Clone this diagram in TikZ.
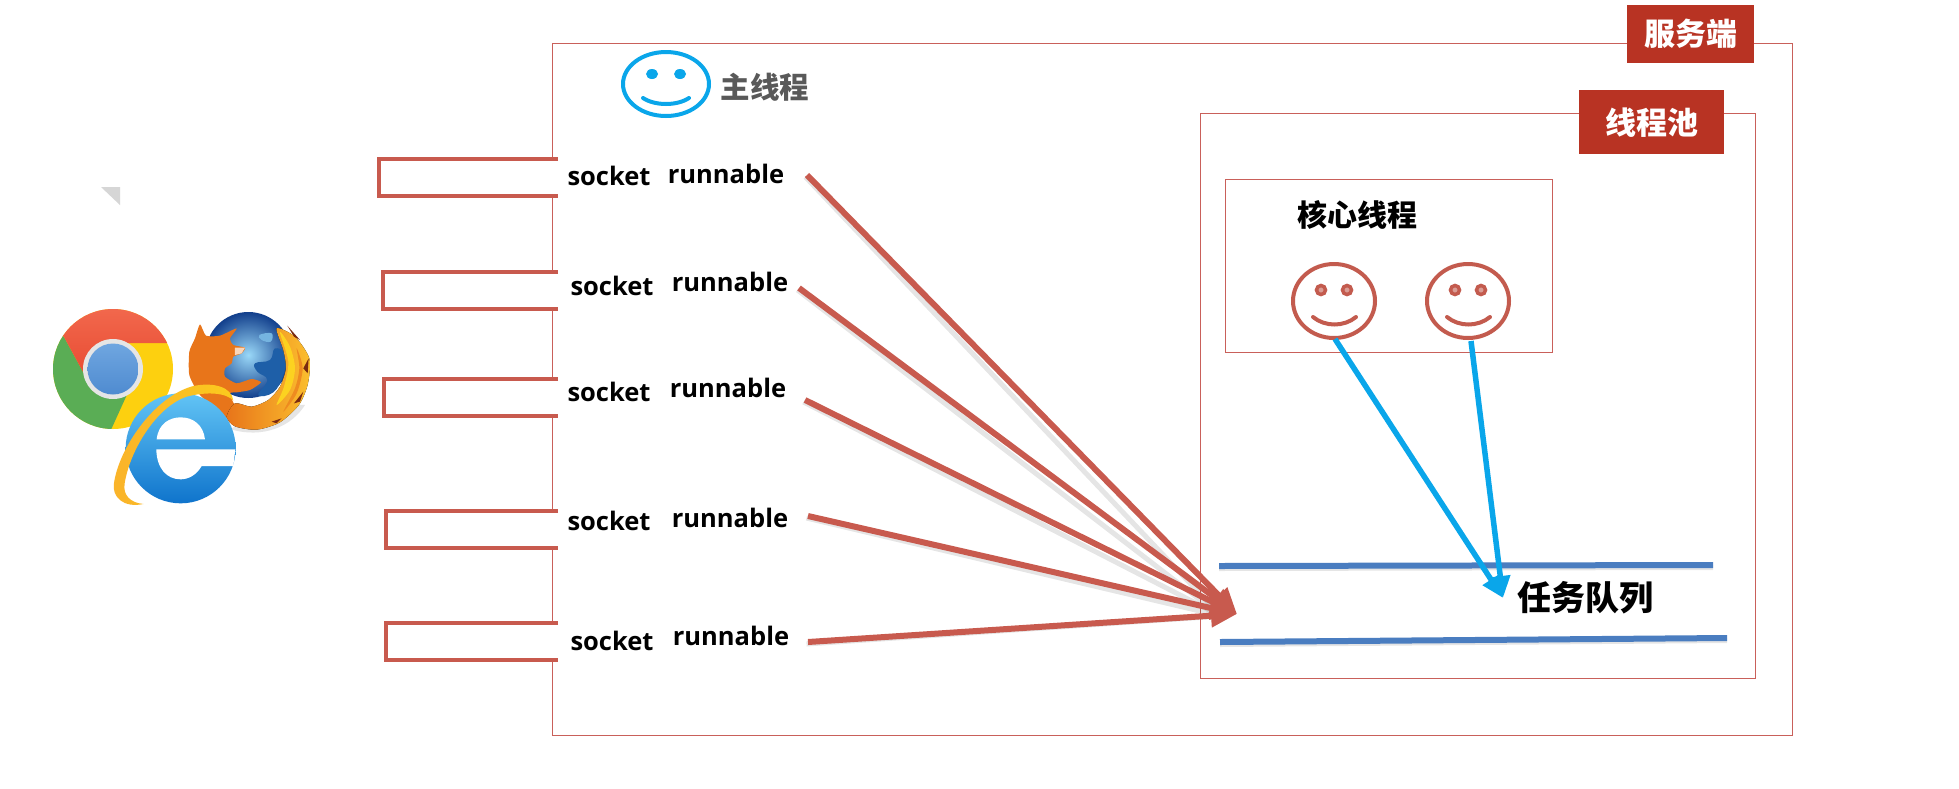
\documentclass[tikz,border=0pt]{standalone}
\usepackage{fontspec}
\usetikzlibrary{arrows.meta}
\setmainfont{Open Sans}
\newfontfamily\cjk{Noto Sans CJK SC}
\definecolor{frame}{HTML}{C9605A}
\definecolor{brick}{HTML}{C85A4E}
\definecolor{tag}{HTML}{B83323}
\definecolor{sky}{HTML}{0AA6EA}
\definecolor{queue}{HTML}{4A7DC0}
\definecolor{smile}{HTML}{C35B4E}
\definecolor{chred}{HTML}{E6452C}
\definecolor{chredl}{HTML}{F2694E}
\definecolor{chgreen}{HTML}{5AAD55}
\definecolor{chyellow}{HTML}{FDD00F}
\definecolor{chblue}{HTML}{4F8BD0}
\definecolor{chbluel}{HTML}{6FA6E0}
\definecolor{ffdeep}{HTML}{123F8C}
\definecolor{ffsky}{HTML}{9AD8F8}
\definecolor{ffmid}{HTML}{1E5FA8}
\definecolor{fforange}{HTML}{E8751A}
\definecolor{ffgold}{HTML}{FBBF2E}
\definecolor{ffdark}{HTML}{7A2A10}
\definecolor{ietop}{HTML}{62C4F5}
\definecolor{iebot}{HTML}{0F74CC}
\definecolor{iering}{HTML}{FAB32A}
\tikzset{
  boxframe/.style={draw=frame,line width=1.3pt,fill=none,inner sep=0pt,anchor=north west},
  tagbox/.style={fill=tag,text=white,inner sep=0pt,font=\cjk\bfseries\fontsize{31}{31}\selectfont},
  bracket/.style={draw=brick,line width=4.2pt,fill=white},
  sockettext/.style={inner sep=0pt,text=black,font=\bfseries\fontsize{25.5}{26}\selectfont},
  cjklabel/.style={inner sep=0pt,font=\cjk\bfseries},
  redarrow/.style={draw=brick,line width=6pt,-{Triangle[length=26pt,width=22pt]}},
  bluearrow/.style={draw=sky,line width=5.5pt,-{Triangle[length=22pt,width=19pt]}},
  queueline/.style={draw=queue,line width=6pt},
  softshadow/.style={draw=black,opacity=.10,line width=5pt},
  face/.style={line width=4pt,fill=none},
  mouth/.style={line width=4pt,line cap=round}
}
\begin{document}
\begin{tikzpicture}[x=1pt,y=-1pt]
\useasboundingbox (0,0) rectangle (1959,788);
\fill[white] (0,0) rectangle (1959,788);
% frames
\node[boxframe,minimum width=1240pt,minimum height=692pt] (server) at (552,43) {};
\node[boxframe,minimum width=555pt,minimum height=565pt] (pool) at (1199.5,113) {};
\node[boxframe,minimum width=327pt,minimum height=173pt] (core) at (1225,179) {};
\node[tagbox,minimum width=127pt,minimum height=58pt,anchor=north west] (servertag) at (1627,5) {服务端};
\node[tagbox,minimum width=145pt,minimum height=64pt,anchor=north west] (pooltag) at (1579,90) {线程池};
% sockets
\path[bracket] (558,159) -- (379,159) -- (379,196) -- (558,196);
\path[bracket] (558,272) -- (383,272) -- (383,309) -- (558,309);
\path[bracket] (558,379) -- (384,379) -- (384,416) -- (558,416);
\path[bracket] (558,511) -- (386,511) -- (386,548) -- (558,548);
\path[bracket] (558,623) -- (386,623) -- (386,660) -- (558,660);
\node[sockettext] (s1) at (609,176) {socket};
\node[sockettext] (s2) at (612,286) {socket};
\node[sockettext] (s3) at (609,392) {socket};
\node[sockettext] (s4) at (609,521) {socket};
\node[sockettext] (s5) at (612,641) {socket};
\node[sockettext] (r1) at (726,174) {runnable};
\node[sockettext] (r2) at (730,282) {runnable};
\node[sockettext] (r3) at (728,388) {runnable};
\node[sockettext] (r4) at (730,518) {runnable};
\node[sockettext] (r5) at (731,636) {runnable};
% main thread face
\begin{scope}[draw=sky,sky]
\draw[face] (666,84) ellipse [x radius=43pt,y radius=32pt];
\fill (652,74) ellipse [x radius=6pt,y radius=5pt];
\fill (680,74) ellipse [x radius=6pt,y radius=5pt];
\draw[mouth] (643,98) .. controls (655,106) and (677,106) .. (689,98);
\end{scope}
\node[cjklabel,text=black!65,font=\cjk\bfseries\fontsize{29.5}{30}\selectfont] (mainlabel) at (765,87) {主线程};
% core faces
\begin{scope}[draw=smile]
\draw[face] (1334,301) ellipse [x radius=41pt,y radius=37pt];
\draw[line width=3.5pt,fill=smile!60] (1321,290) circle (4.5pt);
\draw[line width=3.5pt,fill=smile!60] (1347,290) circle (4.5pt);
\draw[mouth] (1313,317) .. controls (1325,327) and (1344,327) .. (1356,317);
\draw[face] (1468,301) ellipse [x radius=41pt,y radius=37pt];
\draw[line width=3.5pt,fill=smile!60] (1455,290) circle (4.5pt);
\draw[line width=3.5pt,fill=smile!60] (1481,290) circle (4.5pt);
\draw[mouth] (1447,317) .. controls (1459,327) and (1478,327) .. (1490,317);
\end{scope}
\node[cjklabel,font=\cjk\bfseries\fontsize{30}{30}\selectfont] (corelabel) at (1357,215) {核心线程};
\node[cjklabel,font=\cjk\bfseries\fontsize{34}{34}\selectfont] (queuelabel) at (1585,598) {任务队列};
% queue lines
\coordinate (qa) at (1219,566); \coordinate (qb) at (1713,565);
\coordinate (qc) at (1220,642); \coordinate (qd) at (1727,638);
\draw[softshadow] ([yshift=-2.5pt]qa) -- ([yshift=-2.5pt]qb);
\draw[softshadow] ([yshift=-2.5pt]qc) -- ([yshift=-2.5pt]qd);
\draw[queueline] (qa) -- (qb);
\draw[queueline] (qc) -- (qd);
% arrows
\coordinate (t1) at (807,175); \coordinate (t2) at (799,288); \coordinate (t3) at (805,400);
\coordinate (t4) at (808,516); \coordinate (t5) at (808,642); \coordinate (hit) at (1237,614);
\foreach \n in {t1,t2,t3,t4,t5}{
  \draw[softshadow] ([shift={(-1.5pt,-2pt)}]\n) -- ([shift={(-16pt,-2pt)}]hit);
}
\draw[redarrow] (t1) -- (hit);
\draw[redarrow] (t2) -- (hit);
\draw[redarrow] (t3) -- (hit);
\draw[redarrow] (t4) -- (hit);
\draw[redarrow] (t5) -- (hit);
\coordinate (f1) at (1335,339); \coordinate (f2) at (1471,341); \coordinate (job) at (1503,598);
\draw[bluearrow] (f1) -- (job);
\draw[bluearrow] (f2) -- (job);
% small grey corner
\fill[black!16] (101,187) -- (120,187) -- (120,205) -- cycle;
% Chrome
\begin{scope}
\clip (113,369) circle (60pt);
\fill[chyellow] (50,300) rectangle (180,440);
\fill[chgreen] (50,320) -- (64,337) -- (94,392) -- (113,395) -- (130,388) -- (110,432) -- (50,432) -- cycle;
\shade[top color=chredl,bottom color=chred] (50,305) -- (176,305) -- (176,343) -- (113,343) -- (94,392) -- (64,337) -- (50,320) -- cycle;
\end{scope}
\fill[white!90!black] (113,369) circle (30pt);
\shade[top color=chbluel,bottom color=chblue] (113,369) circle (25.5pt);
% Firefox
\begin{scope}[shift={(180,305)},x=.3333pt,y=-.3333pt]
\fill[black!10] (150,372) .. controls (220,395) and (320,385) .. (375,300) -- (300,300) -- cycle;
\shade[inner color=ffsky,outer color=ffdeep] (205,150) circle (43pt);
\fill[ffmid] plot[smooth cycle,tension=.7] coordinates {(225,175) (270,165) (285,130) (318,150) (310,210) (280,262) (235,270) (262,225) (232,200)};
\fill[ffsky!70!ffmid] plot[smooth cycle,tension=.7] coordinates {(238,90) (275,85) (272,110) (245,105)};
\fill[fforange] plot[smooth cycle,tension=.35] coordinates {(60,58) (78,92) (120,92) (170,70) (150,100) (160,120) (195,128) (185,145) (160,155) (155,175) (135,190) (135,215) (170,235) (215,222) (243,232) (210,255) (170,262) (150,265) (165,300) (210,312) (250,340) (165,362) (140,340) (60,270) (28,210) (28,140) (45,100)};
\fill[white!70!fforange] (165,128) -- (195,128) -- (185,145) -- (165,150) -- cycle;
\fill[left color=fforange,right color=ffgold] plot[smooth cycle,tension=.45] coordinates {(165,295) (215,305) (265,285) (300,245) (318,190) (310,135) (290,70) (345,95) (388,160) (384,235) (358,298) (300,352) (230,374) (165,364) (140,335)};
\fill[ffgold!70!yellow] plot[smooth cycle,tension=.5] coordinates {(300,82) (330,125) (345,190) (330,255) (290,300) (312,245) (325,170)};
\fill[fforange!70!ffgold] plot[smooth cycle,tension=.5] coordinates {(350,130) (368,190) (350,265) (310,320) (345,250) (358,190)};
\fill[ffdark] (370,190) -- (386,160) -- (383,205) -- cycle;
\fill[ffdark] (342,295) -- (370,260) -- (360,290) -- cycle;
\fill[ffdark] (275,350) -- (305,340) -- (290,355) -- cycle;
\fill[ffdark] (322,62) -- (360,105) -- (342,95) -- cycle;
\end{scope}
% IE
\begin{scope}[shift={(110,380)},x=.3333pt,y=-.3333pt]
\shade[top color=ietop,bottom color=iebot] (212,205) circle (55pt);
\fill[white] (140,178) .. controls (145,130) and (180,112) .. (212,112) .. controls (250,112) and (280,135) .. (285,178) -- cycle;
\fill[white] (139,208) -- (376,208) -- (370,258) -- (275,258) .. controls (260,285) and (235,298) .. (212,298) .. controls (170,298) and (140,265) .. (139,208) -- cycle;
\shade[left color=iering,right color=iering!70!yellow] (100,372) .. controls (40,385) and (5,350) .. (12,310) .. controls (25,210) and (130,50) .. (250,18) .. controls (310,6) and (365,20) .. (370,62) .. controls (350,38) and (290,34) .. (230,50) .. controls (140,80) and (60,210) .. (44,310) .. controls (38,345) and (60,368) .. (100,372) -- cycle;
\end{scope}
\end{tikzpicture}
\end{document}
